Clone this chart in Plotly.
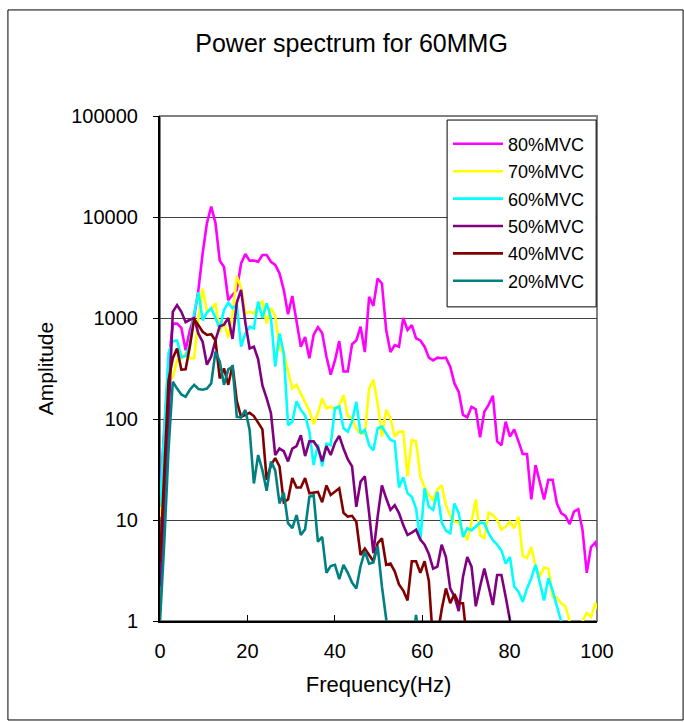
import plotly.graph_objects as go

# FFT bin spacing (Hz) of the spectra; bin k sits at k * BIN_HZ
BIN_HZ = 1000 / 1024

series_names = ["80%MVC", "70%MVC", "60%MVC", "50%MVC", "40%MVC", "20%MVC"]
series_colors = ["#FF00FF", "#FFFF00", "#00FFFF", "#800080", "#800000", "#008080"]

mvc80 = [17, 70, 350, 880, 880, 800, 480, 760, 1030, 1900, 4400, 8700, 12700, 8700, 3700, 3200,
         1500, 1700, 1900, 3470, 4300, 3700, 3700, 3600, 4200, 4200, 3600, 3350, 2770, 1900, 1090,
         1650, 890, 520, 650, 400, 680, 810, 710, 415, 275, 380, 590, 295, 295, 550, 600, 820, 460,
         1620, 1320, 2460, 2200, 760, 460, 540, 520, 1000, 760, 850, 630, 600, 520, 405, 380, 405,
         400, 405, 330, 225, 185, 110, 104, 132, 125, 66, 118, 138, 170, 60, 55, 94, 67, 79, 60, 45,
         45, 16, 35, 24, 16, 25, 25, 14.6, 11.7, 11, 9.1, 12.1, 12.8, 8, 3, 5.4, 6, 4.5]

mvc70 = [10.7, 50, 230, 262, 380, 400, 445, 400, 400, 1000, 1950, 1150, 1200, 1400, 720, 920, 640,
         1100, 2600, 2000, 1110, 1150, 1110, 1340, 1450, 880, 1250, 1050, 500, 445, 305, 200, 218,
         180, 148, 120, 89, 114, 160, 127, 133, 124, 137, 172, 107, 102, 80, 72, 72, 200, 245, 142,
         67, 123, 102, 67, 75, 75, 27, 62, 60, 27, 21, 17.7, 15.8, 20, 22, 14, 11, 9.6, 9.5, 7.7,
         6.3, 9.6, 16, 7.1, 6.6, 11.8, 11.2, 10, 8, 8.6, 9.6, 8.3, 10.8, 4.4, 4.2, 5.4, 3.45, 2.75,
         3.4, 3.3, 1.74, 1.7, 1.5, 1.4, 1.0, 0.6, 0.7, 1.0, 1.2, 1.1, 1.5, 1.2]

mvc60 = [13.5, 70, 450, 590, 600, 410, 420, 550, 1110, 1800, 950, 1130, 1250, 1000, 780, 1200, 1420,
         1250, 1350, 520, 700, 820, 790, 1450, 1000, 1400, 1000, 330, 700, 450, 87, 94, 150, 123,
         108, 75, 35, 56, 34, 57, 55, 128, 133, 81, 75, 95, 148, 72, 78, 55, 49, 81, 84, 72, 62, 60,
         21, 26.5, 18.4, 17, 13, 6.3, 20.6, 13.5, 12.6, 19, 9.5, 7.8, 7.4, 14.6, 11.7, 6.8, 8.3, 7.9,
         8.6, 9.4, 9.3, 7.4, 6.3, 5.7, 5.0, 3.7, 4.3, 2.2, 1.95, 1.55, 2.1, 2.65, 3.6, 2.45, 1.6,
         2.65, 2.0, 1.4, 1.0, 0.6]

mvc50 = [2.2, 15, 100, 1150, 1340, 1150, 910, 960, 1000, 700, 580, 345, 415, 600, 830, 860, 1000,
         620, 1420, 1900, 900, 500, 520, 390, 215, 160, 114, 44, 51, 48, 38, 51, 54, 69, 43, 60, 60,
         52, 38, 54, 44, 58, 68, 51, 40, 34, 13.5, 24, 27, 11.7, 4.7, 10.8, 22, 16.4, 12.6, 14, 11.7,
         8.9, 7.1, 7.5, 8, 6.4, 5.7, 4.6, 3.3, 3.45, 5.7, 4.3, 2.1, 1.74, 1.25, 2.75, 4.3, 3.45, 1.4,
         2.2, 3.3, 2.2, 1.44, 2.85, 2.85, 1.74, 0.95, 0.6]

mvc40 = [3.8, 31, 240, 400, 500, 308, 310, 525, 975, 850, 730, 680, 690, 600, 252, 317, 218, 340,
         150, 105, 110, 115, 107, 91, 79, 25, 35, 41, 34, 15, 16, 26, 21, 21, 26, 18.4, 18.6, 19, 15,
         22, 17.7, 19, 20.6, 11.8, 10.8, 11, 9.6, 4.5, 5.2, 4.5, 3.9, 5.9, 6.6, 3.6, 3.7, 3.1, 2.3,
         2.0, 1.6, 3.9, 3.9, 3.0, 3.9, 2.5, 0.6, 0.7, 1.3, 2.1, 1.5, 1.85, 1.5, 1.5, 0.6]

mvc20 = [1, 6, 50, 234, 200, 175, 166, 195, 218, 198, 195, 200, 225, 465, 370, 218, 310, 330, 105,
         104, 123, 78, 23, 44, 31, 19.5, 38, 31, 14.6, 18.6, 9.3, 8.3, 11.2, 7.1, 8.1, 17, 17.6, 6.1,
         6.8, 3.0, 3.5, 3.6, 2.6, 3.6, 3.0, 2.4, 2.1, 3.5, 4.9, 3.7, 3.8, 5.5, 2.2, 0.95, 0.5, 0.4,
         0.5, 0.4, 0.5, 0.5, 1.15, 0.5]

series_values = [mvc80, mvc70, mvc60, mvc50, mvc40, mvc20]

y_tick_values = [1, 10, 100, 1000, 10000, 100000]
y_tick_labels = ["1", "10", "100", "1000", "10000", "100000"]
x_tick_values = [0, 20, 40, 60, 80, 100]

FONT = "Liberation Sans, Arial, sans-serif"

fig = go.Figure()
for i, (name, color, vals) in enumerate(zip(series_names, series_colors, series_values)):
    freq = [k * BIN_HZ for k in range(len(vals))]
    fig.add_trace(go.Scatter(
        x=freq, y=vals, mode="lines", name=name,
        line=dict(color=color, width=2.6),
        legendgroup=f"g{i}",
    ))

# plot-area frame (grey top/right edges), drawn under the data
fig.add_shape(type="rect", xref="paper", yref="paper", x0=0, x1=1, y0=0, y1=1,
              line=dict(color="#808080", width=2), layer="below")
# outer chart border
fig.add_shape(type="rect", xref="paper", yref="paper",
              x0=-0.348, x1=1.197, y0=-0.196, y1=1.21,
              line=dict(color="#000000", width=1), layer="below")
# legend frame
fig.add_shape(type="rect", xref="paper", yref="paper",
              x0=0.657, x1=0.998, y0=0.622, y1=0.992,
              line=dict(color="#000000", width=1), fillcolor="white", layer="above")

fig.update_layout(
    width=684, height=722,
    margin=dict(l=160, r=87, t=116, b=101),
    paper_bgcolor="white", plot_bgcolor="rgba(0,0,0,0)",
    font=dict(family=FONT, color="black", size=20),
    title=dict(text="Power spectrum for 60MMG", font=dict(size=25, family=FONT),
               xref="container", x=0.514, xanchor="center",
               yref="container", y=0.94, yanchor="middle"),
    showlegend=True,
    legend=dict(x=0.659, y=0.981, xanchor="left", yanchor="top",
                bgcolor="rgba(0,0,0,0)", borderwidth=0, itemwidth=50,
                font=dict(size=18, family=FONT), tracegroupgap=1),
    xaxis=dict(range=[0, 100], tickvals=x_tick_values, ticks="inside", ticklen=6,
               tickcolor="black", tickwidth=1, showgrid=False, zeroline=False,
               showline=True, linecolor="black", linewidth=2,
               tickfont=dict(size=20), ticklabelstandoff=11,
               title=dict(text="Frequency(Hz)", font=dict(size=22), standoff=16)),
    yaxis=dict(type="log", range=[0, 5], tickvals=y_tick_values, ticktext=y_tick_labels,
               ticks="outside", ticklen=5, tickcolor="black", tickwidth=1,
               showgrid=True, gridcolor="#404040", gridwidth=1, zeroline=False,
               showline=True, linecolor="black", linewidth=2,
               tickfont=dict(size=20), ticklabelstandoff=11,
               title=dict(text="Amplitude", font=dict(size=21), standoff=12)),
)

fig.write_html("out.html")
